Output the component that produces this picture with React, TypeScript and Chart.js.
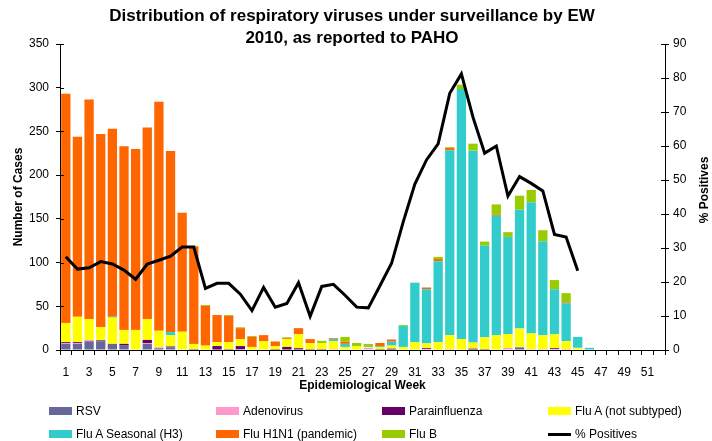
import React, { useEffect, useRef } from "react";
import { Chart, registerables } from "chart.js";

Chart.register(...registerables);

const weeks = [
  "1","2","3","4","5","6","7","8","9","10","11","12","13","14","15","16","17","18","19","20","21","22","23","24","25","26",
  "27","28","29","30","31","32","33","34","35","36","37","38","39","40","41","42","43","44","45","46","47","48","49","50","51","52",
];

const rsv = [7,7,10,10,7,5,0,7,2,3,0,0, 0,0,0,1,0,0,0,0,0,0,0,0, 0,0,0,0,0,0,0,0,0,0,0,0, 0,0,0,3,0,0,0,0,0,0,0,0, 0,0,0,0];
const adenovirus = [1,1,1.5,0,0,0,0,1,1,0,0,0, 0,0,0,0,0,0,0,0,0,0,0,1, 0,0,2.3,0,0,0,0,1,0,1,0,0, 0,0,2.3,0,1,1,1,1,0,0,0,0, 0,0,0,0];
const parainfluenza = [1,1,0,1,0,2,0,3.5,0,1,0,1, 0,4.5,1,3.5,0,0,1,3.5,2,1,1,0, 0,0,0,1,1.5,0,0,1,0,0,0,1.5, 1,0,0,0,0,0,1,0,0,0,0,0, 0,0,0,0];
const fluANotSubtyped = [22,29,24,15,30,16,23,24,19,13,21,6, 5,4.5,8,8,3.5,10,3.5,9,16,7,7,9, 3.5,4.5,1,2.5,3.5,3.5,9,5.5,9,16,12.5,7, 13.5,17,16,21.5,18,16,16,9,2.5,0,0,0, 0,0,0,0];
const fluASeasonalH3 = [0,0,0,0,1,0,0,0,0,3.5,0,0, 0,0,0,0,0,0,0,0,0,0,0,2.5, 3.5,0,1,1,4.5,24,68,62,92.5,211.5,286,219.5, 105,136.5,111,136,150,107.5,51.5,43.5,12.5,2.5,0,0, 0,0,0,0];
const fluH1N1 = [262,206,251,221,215,210,207,219,262,207,136,111, 45.5,31,30,12.5,11.5,7,5,1,7,4.5,0,1, 2.5,0,0,3.5,2.5,0,0,2,2.5,2.5,0,0, 0,1,0,0,0,0,0,1,0,0,0,0, 0,0,0,0];
const fluB = [0,0,0,0,0,0,0,0,0,0,0,1, 1,0,1,1,1,0,0.5,1,0,0,2.5,0, 5.5,3.5,2.5,0,0,1,0,0,2.5,1,5,8, 4.5,12,5.5,16,14,12.5,10.5,10.5,0,0,0,0, 0,0,0,0];
const pctPositives = [27.4,23.8,24.2,26,25.3,23.5,20.8,25.3,26.4,27.6,30.3,30.3, 18.1,19.6,19.6,16.4,11.6,18.4,12.6,13.7,19.8,9.9,18.7,19.3, 16.1,12.6,12.4,18.9,25.5,37.7,48.8,55.9,60.6,75.5,81.2,68.4, 57.9,60,45.3,51,49,46.8,34,33.2,23.3,null,null,null, null,null,null,null];

const leftTicksMax = 350;
const rightTicksMax = 90;

const seriesNames = [
  "RSV",
  "Adenovirus",
  "Parainfluenza",
  "Flu A (not subtyped)",
  "Flu A Seasonal (H3)",
  "Flu H1N1 (pandemic)",
  "Flu B",
];
const seriesColors = ["#666699", "#FF99CC", "#660066", "#FFFF00", "#33CCCC", "#FF6600", "#99CC00"];
const seriesData = [rsv, adenovirus, parainfluenza, fluANotSubtyped, fluASeasonalH3, fluH1N1, fluB];

const FONT = "'Liberation Sans', Arial, sans-serif";

const extrasPlugin = {
  id: "extras",
  afterDraw(chart: any) {
    const { ctx, chartArea } = chart;
    const y1 = chart.scales.y1;
    const y = chart.scales.y;
    ctx.save();
    ctx.strokeStyle = "#000";
    ctx.lineWidth = 1;
    y1.ticks.forEach((_t: any, i: number) => {
      const py = Math.round(y1.getPixelForTick(i)) + 0.5;
      ctx.beginPath();
      ctx.moveTo(chartArea.right - 4, py);
      ctx.lineTo(chartArea.right, py);
      ctx.stroke();
    });
    y.ticks.forEach((_t: any, i: number) => {
      const py = Math.round(y.getPixelForTick(i)) + 0.5;
      ctx.beginPath();
      ctx.moveTo(chartArea.left, py);
      ctx.lineTo(chartArea.left + 4, py);
      ctx.stroke();
    });
    ctx.translate(705, 190);
    ctx.rotate(-Math.PI / 2);
    ctx.fillStyle = "#000";
    ctx.font = `bold 12px ${FONT}`;
    ctx.textAlign = "center";
    ctx.textBaseline = "middle";
    ctx.fillText("% Positives", 0, 0);
    ctx.restore();
  },
};

export default function App() {
  const canvasRef = useRef<HTMLCanvasElement | null>(null);

  useEffect(() => {
    const canvas = canvasRef.current;
    if (!canvas) return;
    const datasets: any[] = seriesNames.map((name, i) => ({
      type: "bar",
      label: name,
      data: seriesData[i],
      backgroundColor: seriesColors[i],
      borderWidth: 0,
      barPercentage: 0.8,
      categoryPercentage: 1.0,
      yAxisID: "y",
      order: 1,
    }));
    datasets.push({
      type: "line",
      label: "% Positives",
      data: pctPositives,
      borderColor: "#000",
      backgroundColor: "#000",
      borderWidth: 3,
      pointRadius: 0,
      tension: 0,
      yAxisID: "y1",
      order: 0,
      spanGaps: false,
    });

    const chart = new Chart(canvas, {
      type: "bar",
      data: { labels: weeks, datasets },
      options: {
        animation: false,
        responsive: false,
        maintainAspectRatio: false,
        layout: { padding: { top: 44, left: 0, right: 0, bottom: 48 } },
        plugins: {
          legend: { display: false },
          tooltip: { enabled: false },
          title: { display: false },
        },
        scales: {
          x: {
            stacked: true,
            grid: { display: true, drawOnChartArea: false, offset: true, tickLength: 5, color: "#000" },
            border: { color: "#000", width: 1 },
            ticks: {
              autoSkip: false,
              maxRotation: 0,
              minRotation: 0,
              color: "#000",
              padding: 10,
              font: { family: FONT, size: 12 },
              callback: (_v: any, i: number) => (i % 2 === 0 ? weeks[i] : ""),
            },
            title: {
              display: true,
              text: "Epidemiological Week",
              color: "#000",
              font: { family: FONT, size: 12, weight: "bold" },
              padding: 0,
            },
            afterFit: (s: any) => {
              s.height = 43;
            },
          },
          y: {
            type: "linear",
            position: "left",
            stacked: true,
            min: 0,
            max: leftTicksMax,
            grid: { display: true, drawOnChartArea: false, tickLength: 4, color: "#000" },
            border: { color: "#000", width: 1 },
            ticks: {
              stepSize: 50,
              color: "#000",
              padding: 7,
              font: { family: FONT, size: 12 },
            },
            title: {
              display: true,
              text: "Number of Cases",
              color: "#000",
              font: { family: FONT, size: 12, weight: "bold" },
              padding: { top: 11, bottom: 0 },
            },
            afterFit: (s: any) => {
              s.width = 60;
            },
          },
          y1: {
            type: "linear",
            position: "right",
            min: 0,
            max: rightTicksMax,
            grid: { display: true, drawOnChartArea: false, tickLength: 4, color: "#000" },
            border: { color: "#000", width: 1 },
            ticks: {
              stepSize: 10,
              color: "#000",
              padding: 4,
              font: { family: FONT, size: 12 },
            },
            afterFit: (s: any) => {
              s.width = 47;
            },
          },
        },
      } as any,
      plugins: [extrasPlugin],
    });
    return () => chart.destroy();
  }, []);

  const legendCols = [49, 216, 382, 548];
  const legendRows = [411, 434];
  const legendItems = [...seriesNames.map((n, i) => ({ name: n, color: seriesColors[i], line: false })), { name: "% Positives", color: "#000", line: true }];

  return (
    <div style={{ position: "absolute", left: 0, top: 0, width: 712, height: 441, background: "#fff", overflow: "hidden", fontFamily: FONT }}>
      <canvas ref={canvasRef} width={712} height={441} style={{ position: "absolute", left: 0, top: 0, width: 712, height: 441 }} />
      <div style={{ position: "absolute", left: 0, width: 704, top: 5, textAlign: "center", fontWeight: "bold", fontSize: 17, lineHeight: "22px", color: "#000" }}>
        Distribution of respiratory viruses under surveillance by EW
        <br />
        2010, as reported to PAHO
      </div>
      {legendItems.map((it, i) => {
        const col = i % 4;
        const row = Math.floor(i / 4);
        const x = legendCols[col];
        const y = legendRows[row];
        return (
          <div key={it.name} style={{ position: "absolute", left: x, top: y - 8, height: 16, display: "flex", alignItems: "center", whiteSpace: "nowrap", fontSize: 12, color: "#000" }}>
            {it.line ? (
              <span style={{ display: "inline-block", width: 23, height: 3, background: "#000", marginRight: 4 }} />
            ) : (
              <span style={{ display: "inline-block", width: 23, height: 8, background: it.color, marginRight: 4 }} />
            )}
            <span>{it.name}</span>
          </div>
        );
      })}
    </div>
  );
}
